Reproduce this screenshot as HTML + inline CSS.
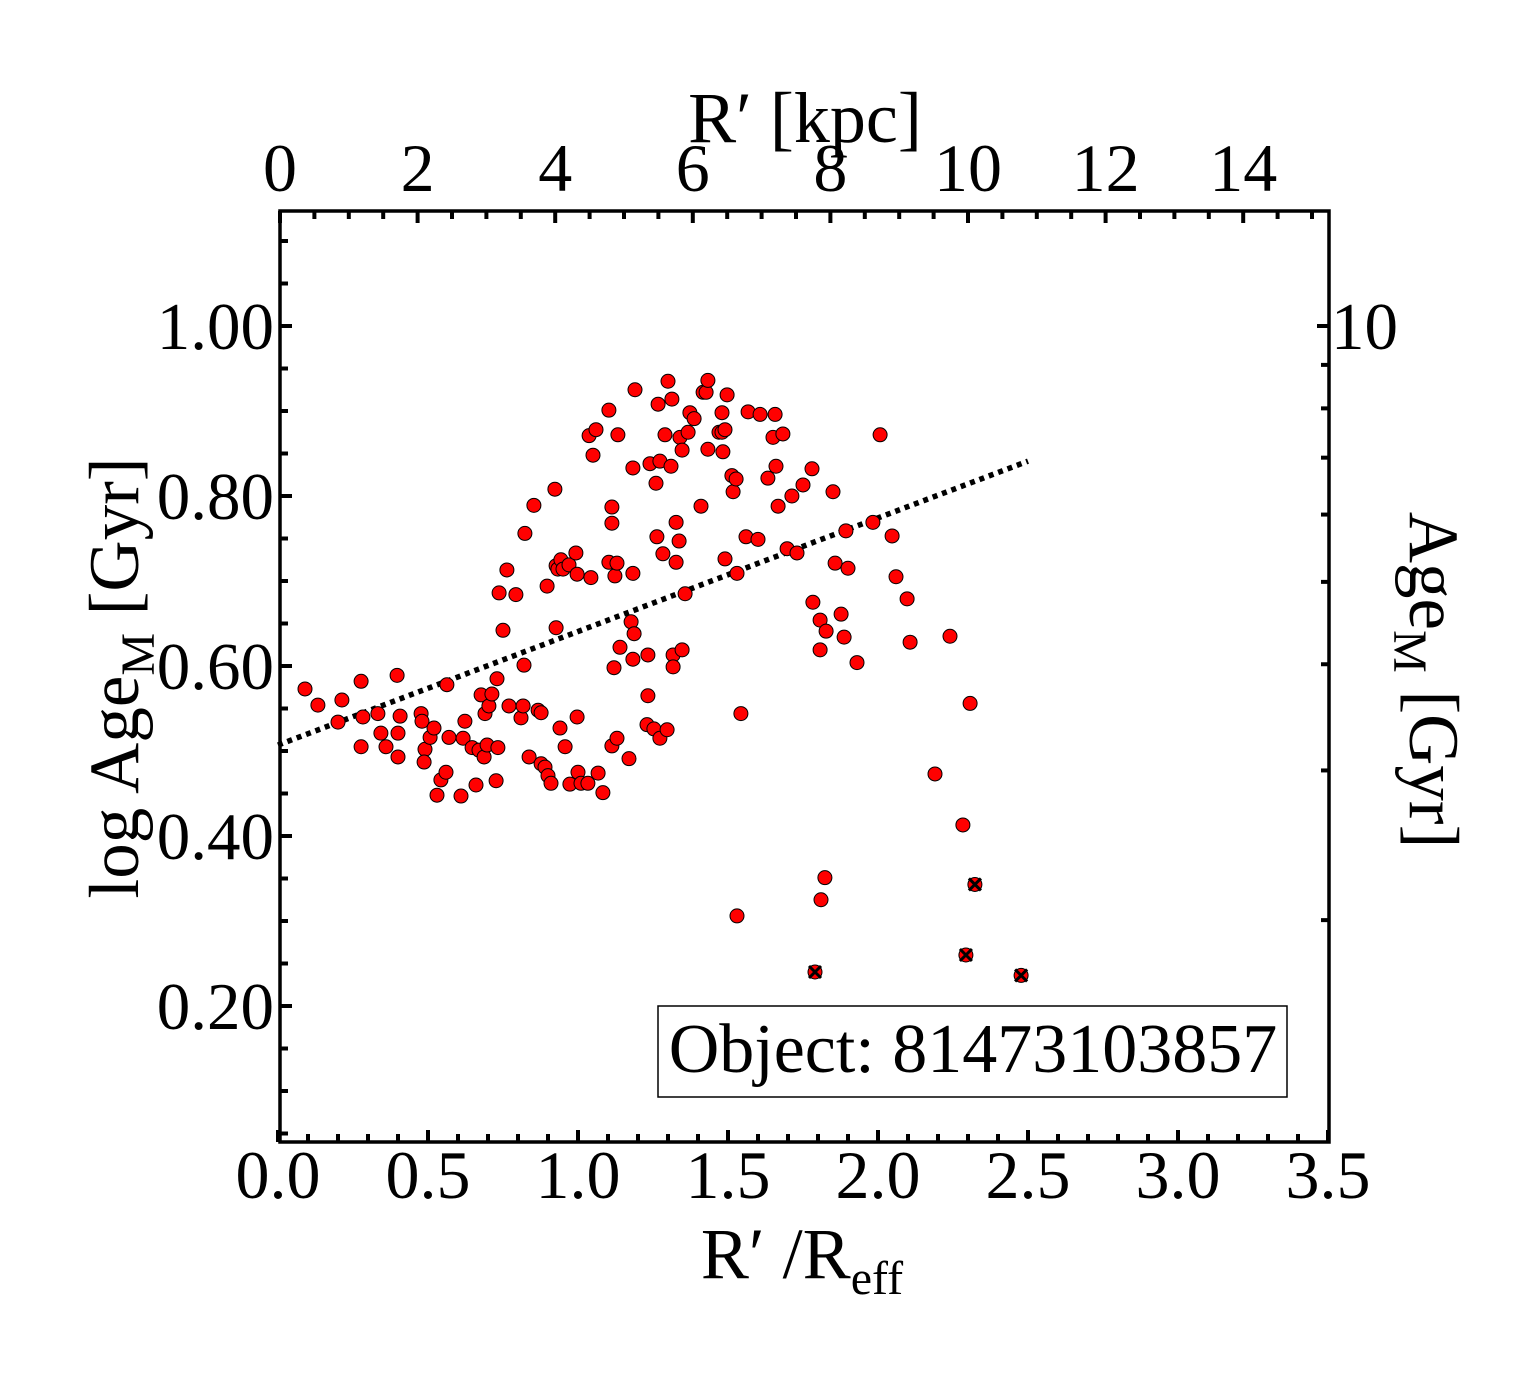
<!DOCTYPE html>
<html><head><meta charset="utf-8"><style>
html,body{margin:0;padding:0;background:#fff;}
svg{display:block;font-family:"Liberation Serif",serif;}
</style></head><body>
<svg id="chart" width="1540" height="1375" viewBox="0 0 1540 1375"></svg>
<script>
const xTicks = [0.0,0.5,1.0,1.5,2.0,2.5,3.0,3.5];
const xTickLabels = ["0.0","0.5","1.0","1.5","2.0","2.5","3.0","3.5"];
const yTicks = [0.2,0.4,0.6,0.8,1.0];
const yTickLabels = ["0.20","0.40","0.60","0.80","1.00"];
const kpcTicks = [0,2,4,6,8,10,12,14];
const kpcTickLabels = ["0","2","4","6","8","10","12","14"];
const rightAgeMinor = [2,3,4,5,6,7,8,9];
const rightAgeMajor = [10];
const fitLine = {x0:0.0,y0:0.507,x1:2.5,y1:0.841};
const rX = [0.09,0.133,0.213,0.2,0.277,0.277,0.283,0.333,0.343,0.36,0.397,0.4,0.4,0.407,0.477,0.48,0.49,0.487,0.507,0.52,0.53,0.543,0.56,0.563,0.57,0.61,0.617,0.623,0.647,0.66,0.67,0.677,0.687,0.69,0.697,0.703,0.713,0.727,0.73,0.733,0.737,0.75,0.763,0.77,0.793,0.81,0.817,0.82,0.823,0.837,0.853,0.867,0.877,0.877,0.89,0.897,0.9,0.91,0.923,0.927,0.927,0.933,0.94,0.943,0.95,0.957,0.97,0.973,0.993,0.997,0.997,1.0,1.01,1.033,1.037,1.043,1.05,1.06,1.067,1.083,1.103,1.113,1.113,1.113,1.103,1.12,1.123,1.13,1.13,1.133,1.14,1.17,1.177,1.183,1.183,1.183,1.187,1.19,1.23,1.233,1.233,1.24,1.253,1.26,1.263,1.267,1.273,1.273,1.283,1.29,1.297,1.3,1.31,1.313,1.317,1.317,1.327,1.327,1.337,1.34,1.347,1.347,1.357,1.367,1.373,1.387,1.41,1.417,1.427,1.433,1.433,1.47,1.48,1.48,1.483,1.49,1.49,1.497,1.513,1.517,1.527,1.53,1.53,1.543,1.56,1.567,1.6,1.607,1.633,1.65,1.657,1.66,1.667,1.683,1.697,1.713,1.73,1.75,1.78,1.783,1.807,1.807,1.81,1.823,1.827,1.85,1.857,1.877,1.887,1.893,1.9,1.93,1.983,2.007,2.047,2.06,2.097,2.107,2.19,2.24,2.283,2.307];
const rAge = [0.573,0.554,0.56,0.534,0.582,0.505,0.54,0.544,0.521,0.505,0.589,0.521,0.493,0.541,0.544,0.535,0.502,0.487,0.516,0.527,0.448,0.466,0.475,0.578,0.516,0.447,0.515,0.535,0.504,0.46,0.501,0.566,0.493,0.544,0.507,0.553,0.567,0.465,0.585,0.504,0.686,0.642,0.713,0.553,0.684,0.539,0.553,0.601,0.756,0.493,0.789,0.548,0.545,0.485,0.481,0.694,0.471,0.462,0.808,0.645,0.718,0.714,0.527,0.725,0.714,0.505,0.719,0.461,0.733,0.708,0.54,0.475,0.462,0.462,0.871,0.704,0.848,0.878,0.474,0.451,0.901,0.506,0.787,0.768,0.722,0.598,0.706,0.721,0.515,0.872,0.622,0.491,0.652,0.833,0.709,0.608,0.638,0.925,0.531,0.613,0.565,0.838,0.526,0.815,0.752,0.908,0.515,0.841,0.732,0.872,0.525,0.935,0.835,0.914,0.613,0.599,0.769,0.722,0.747,0.869,0.619,0.854,0.685,0.875,0.898,0.891,0.788,0.922,0.922,0.936,0.855,0.875,0.875,0.898,0.852,0.878,0.726,0.919,0.824,0.805,0.82,0.709,0.306,0.544,0.752,0.899,0.749,0.896,0.821,0.869,0.896,0.835,0.788,0.873,0.738,0.8,0.733,0.813,0.832,0.675,0.654,0.619,0.325,0.351,0.641,0.805,0.721,0.661,0.634,0.759,0.715,0.604,0.769,0.872,0.753,0.705,0.679,0.628,0.473,0.635,0.413,0.556];
const flagX = [1.79,2.293,2.323,2.477];
const flagAge = [0.24,0.26,0.343,0.236];

const L=280,R=1329,T=211,B=1142;
function sx(v){return 278+v*300;}
function sy(v){return 326+(1-v)*850;}
function sk(v){return 280+v*68.8;}
const svg=document.getElementById('chart');
const NS='http://www.w3.org/2000/svg';
function mk(tag,attrs,parent){const e=document.createElementNS(NS,tag);for(const k in attrs)e.setAttribute(k,attrs[k]);(parent||svg).appendChild(e);return e;}
function line(x1,y1,x2,y2,w,p){return mk('line',{x1,y1,x2,y2,stroke:'#000','stroke-width':w},p);}

const tg=mk('g',{});


for(let i=0;i<=35;i++){const v=i/10;const x=sx(v);const maj=i%5===0;const len=maj?12:8;line(x,B,x,B-len,4,tg);}
for(let i=0;i<=30;i++){const v=i/2;const x=sk(v);if(x>R)break;const maj=i%4===0;const len=maj?12:8;line(x,T,x,T+len,4,tg);}
for(let i=1;i<=22;i++){const v=i*0.05;const y=sy(v);if(y<T||y>B)continue;const maj=(i%4===0);line(L,y,L+(maj?12:8),y,4,tg);}
rightAgeMinor.forEach(a=>{const y=sy(Math.log10(a));line(R,y,R-8,y,4,tg);});
rightAgeMajor.forEach(a=>{const y=sy(Math.log10(a));line(R,y,R-12,y,4,tg);});

const fr=mk('rect',{x:L,y:T,width:R-L,height:B-T,fill:'none',stroke:'#000','stroke-width':3.5});



xTicks.forEach((v,i)=>{const t=mk('text',{x:sx(v),y:1198,'font-size':68,'text-anchor':'middle'});t.textContent=xTickLabels[i];

});
kpcTicks.forEach((v,i)=>{const t=mk('text',{x:sk(v),y:191,'font-size':68,'text-anchor':'middle'});t.textContent=kpcTickLabels[i];

});
yTicks.forEach((v,i)=>{const t=mk('text',{x:274,y:sy(v)+23,'font-size':67,'text-anchor':'end'});t.textContent=yTickLabels[i];

});
rightAgeMajor.forEach(a=>{const t=mk('text',{x:1331,y:sy(Math.log10(a))+23,'font-size':67});t.textContent=String(a);

});

const fl=mk('line',{x1:sx(fitLine.x0),y1:sy(fitLine.y0),x2:sx(fitLine.x1),y2:sy(fitLine.y1),stroke:'#000','stroke-width':5.5,'stroke-dasharray':'5,5'});



rX.forEach((v,i)=>{const c=mk('circle',{cx:sx(v),cy:sy(rAge[i]),r:7,fill:'#ff0000',stroke:'#000','stroke-width':1});

});
flagX.forEach((v,i)=>{const x=sx(v),y=sy(flagAge[i]);
const g=mk('g',{});


mk('circle',{cx:x,cy:y,r:7,fill:'#ff0000',stroke:'#000','stroke-width':1},g);
line(x-6,y-6,x+6,y+6,3,g);line(x-6,y+6,x+6,y-6,3,g);});
</script>
<script>
(function(){
const svg=document.getElementById('chart');
const NS='http://www.w3.org/2000/svg';
function txt(html,attrs,name){const t=document.createElementNS(NS,'text');for(const k in attrs)t.setAttribute(k,attrs[k]);t.innerHTML=html;


svg.appendChild(t);return t;}
txt('R′ [kpc]',{x:805,y:142,'font-size':72,'text-anchor':'middle'},'top-axis-title');
txt('R′ /R<tspan font-size="48" dy="16">eff</tspan>',{x:802,y:1278,'font-size':72,'text-anchor':'middle'},'x-axis-title');
txt('log Age<tspan font-size="48" dy="16">M</tspan><tspan dy="-16"> [Gyr]</tspan>',{x:0,y:0,'font-size':71,'text-anchor':'middle',transform:'translate(138,678) rotate(-90)'},'y-axis-title');
txt('Age<tspan font-size="48" dy="16">M</tspan><tspan dy="-16"> [Gyr]</tspan>',{x:0,y:0,'font-size':71,'text-anchor':'middle',transform:'translate(1410,680) rotate(90)'},'right-axis-title');
const r=document.createElementNS(NS,'rect');
r.setAttribute('x',658);r.setAttribute('y',1006);r.setAttribute('width',629);r.setAttribute('height',91);r.setAttribute('fill','#fff');r.setAttribute('stroke','#000');r.setAttribute('stroke-width',1.5);


svg.appendChild(r);
txt('Object: 81473103857',{x:973,y:1072,'font-size':70,'text-anchor':'middle'},'object-label');
})();
</script>
</body></html>
